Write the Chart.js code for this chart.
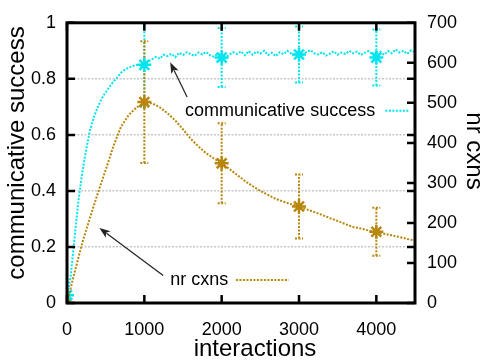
<!DOCTYPE html>
<html><head><meta charset="utf-8">
<script src="https://cdn.jsdelivr.net/npm/chart.js@4"></script>
<style>html,body{margin:0;padding:0;background:#fff}#wrap{width:482px;height:360px}</style>
</head><body><div id="wrap"><canvas id="c" width="482" height="360"></canvas></div>
<script>
// ---- data ----
const successX = [0,50,100,150,200,250,300,350,400,450,500,550,600,650,700,750,800,850,900,950,
 1000,1050,1100,1150,1200,1250,1300,1350,1400,1450,1500,1550,1600,1650,1700,1750,1800,1850,1900,1950,
 2000,2050,2100,2150,2200,2250,2300,2350,2400,2450,2500,2550,2600,2650,2700,2750,2800,2850,2900,2950,
 3000,3050,3100,3150,3200,3250,3300,3350,3400,3450,3500,3550,3600,3650,3700,3750,3800,3850,3900,3950,
 4000,4050,4100,4150,4200,4250,4300,4350,4400,4450,4500];
const successY = [0.02,0.10,0.24,0.37,0.47,0.55,0.62,0.665,0.70,0.73,0.752,0.772,0.79,0.805,0.822,0.833,0.84,0.846,0.85,0.847,
 0.856,0.862,0.87,0.878,0.872,0.886,0.881,0.889,0.877,0.893,0.885,0.895,0.888,0.882,0.894,0.887,0.896,0.884,0.879,0.89,
 0.883,0.875,0.887,0.895,0.889,0.898,0.884,0.899,0.886,0.897,0.89,0.9,0.885,0.893,0.881,0.895,0.888,0.9,0.89,0.884,
 0.893,0.886,0.897,0.902,0.891,0.887,0.895,0.883,0.89,0.898,0.886,0.894,0.889,0.9,0.891,0.897,0.885,0.893,0.899,0.888,
 0.892,0.897,0.886,0.899,0.891,0.905,0.894,0.9,0.889,0.902,0.895];
const cxnsX = [0,100,200,300,400,500,600,700,800,900,1000,1100,1200,1300,1400,1500,1600,1700,1800,1900,
 2000,2100,2200,2300,2400,2500,2600,2700,2800,2900,3000,3100,3200,3300,3400,3500,3600,3700,3800,3900,
 4000,4100,4200,4300,4400,4500];
const cxnsY = [0,78,152,215,275,332,392,441,470,489,500,499,489,474,456,434,410,391,374,361,
 349,335,320,305,292,280,270,260,253,247,241,234,227,220,212,205,197,190,186,181,
 177,173,169,165,160,156];
const errX = [0,1000,2000,3000,4000];
const successMean = [0.028,0.85,0.876,0.887,0.876];
const successSd   = [0,0.15,0.105,0.10,0.10];
const cxnsMean = [0,502,349,241,178];
const cxnsSd   = [0,152,100,80,60];
const xTickVals   = [0,1000,2000,3000,4000];
const xTickLabels = ['0','1000','2000','3000','4000'];
const yTickVals   = [0,0.2,0.4,0.6,0.8,1];
const yTickLabels = ['0','0.2','0.4','0.6','0.8','1'];
const y2TickVals  = [0,100,200,300,400,500,600,700];
const y2TickLabels = ['0','100','200','300','400','500','600','700'];
const labels = {
  success: 'communicative success', cxns: 'nr cxns',
  xTitle: 'interactions', yTitle: 'communicative success', y2Title: 'nr cxns'
};

const FONT = '"Liberation Sans", Arial, Helvetica, sans-serif';
const CYAN = '#00e5ee', GOLD = '#b8860b';
const pts = (xs, ys) => xs.map((x, i) => ({x, y: ys[i]}));

function drawErr(ctx, xs, means, sds, xs_, ys_, color) {
  ctx.save();
  ctx.strokeStyle = color; ctx.lineWidth = 2; ctx.setLineDash([2, 1.5]);
  xs.forEach((x, i) => {
    if (!sds[i]) return;
    const px = xs_.getPixelForValue(x);
    const a = ys_.getPixelForValue(means[i] - sds[i]);
    const b = ys_.getPixelForValue(means[i] + sds[i]);
    ctx.beginPath();
    ctx.moveTo(px, a); ctx.lineTo(px, b);
    ctx.moveTo(px - 4, a); ctx.lineTo(px + 4, a);
    ctx.moveTo(px - 4, b); ctx.lineTo(px + 4, b);
    ctx.stroke();
  });
  ctx.restore();
}

function arrow(ctx, x1, y1, x2, y2) {
  const ang = Math.atan2(y2 - y1, x2 - x1), L = 11, W = 4;
  ctx.beginPath(); ctx.moveTo(x1, y1);
  ctx.lineTo(x2 - Math.cos(ang) * L * 0.8, y2 - Math.sin(ang) * L * 0.8); ctx.stroke();
  ctx.beginPath();
  ctx.moveTo(x2, y2);
  ctx.lineTo(x2 - L * Math.cos(ang) + W * Math.sin(ang), y2 - L * Math.sin(ang) - W * Math.cos(ang));
  ctx.lineTo(x2 - L * 0.75 * Math.cos(ang), y2 - L * 0.75 * Math.sin(ang));
  ctx.lineTo(x2 - L * Math.cos(ang) - W * Math.sin(ang), y2 - L * Math.sin(ang) + W * Math.cos(ang));
  ctx.closePath(); ctx.fill();
}

const overlay = {
  id: 'overlay',
  beforeDatasetsDraw(chart) {
    const {ctx, chartArea: ca, scales: {x, y, y2}} = chart;
    ctx.save();
    ctx.beginPath(); ctx.rect(ca.left, ca.top, ca.right - ca.left, ca.bottom - ca.top); ctx.clip();
    drawErr(ctx, errX, successMean, successSd, x, y, CYAN);
    drawErr(ctx, errX, cxnsMean, cxnsSd, x, y2, GOLD);
    ctx.restore();
  },
  afterDraw(chart) {
    const {ctx, chartArea: ca, scales: {x, y, y2}} = chart;
    ctx.save();
    // inward ticks
    ctx.strokeStyle = '#000'; ctx.lineWidth = 2.5; ctx.setLineDash([]);
    const T = 8;
    ctx.beginPath();
    xTickVals.forEach(v => { const p = x.getPixelForValue(v);
      ctx.moveTo(p, ca.bottom); ctx.lineTo(p, ca.bottom - T);
      ctx.moveTo(p, ca.top); ctx.lineTo(p, ca.top + T); });
    yTickVals.forEach(v => { const p = y.getPixelForValue(v);
      ctx.moveTo(ca.left, p); ctx.lineTo(ca.left + T, p);
      ctx.moveTo(ca.right, p); ctx.lineTo(ca.right - T, p); });
    y2TickVals.forEach(v => { const p = y2.getPixelForValue(v);
      ctx.moveTo(ca.right, p); ctx.lineTo(ca.right - T, p); });
    ctx.stroke();
    // frame
    ctx.lineWidth = 3;
    ctx.strokeRect(ca.left, ca.top, ca.right - ca.left, ca.bottom - ca.top);

    // axis titles
    ctx.fillStyle = '#000';
    ctx.font = '24px ' + FONT;
    ctx.textAlign = 'center'; ctx.textBaseline = 'middle';
    ctx.save(); ctx.translate(17, 153); ctx.rotate(-Math.PI / 2); ctx.fillText(labels.yTitle, 0, 0); ctx.restore();
    ctx.save(); ctx.translate(474, 151); ctx.rotate(Math.PI / 2); ctx.fillText(labels.y2Title, 0, 0); ctx.restore();
    ctx.fillText(labels.xTitle, 255, 349);

    // key labels + arrows
    ctx.font = '18px ' + FONT; ctx.textAlign = 'left'; ctx.textBaseline = 'alphabetic';
    ctx.fillText(labels.success, x.getPixelForValue(1527), y.getPixelForValue(0.669));
    ctx.fillText(labels.cxns, x.getPixelForValue(1334), y.getPixelForValue(0.063));
    ctx.lineWidth = 2; ctx.setLineDash([2, 1.5]);
    ctx.strokeStyle = CYAN; ctx.beginPath();
    ctx.moveTo(x.getPixelForValue(4117), y.getPixelForValue(0.686));
    ctx.lineTo(x.getPixelForValue(4427), y.getPixelForValue(0.686)); ctx.stroke();
    ctx.strokeStyle = GOLD; ctx.beginPath();
    ctx.moveTo(x.getPixelForValue(2184), y.getPixelForValue(0.082));
    ctx.lineTo(x.getPixelForValue(2867), y.getPixelForValue(0.082)); ctx.stroke();
    ctx.setLineDash([]);
    ctx.strokeStyle = '#222'; ctx.fillStyle = '#222'; ctx.lineWidth = 1.2;
    arrow(ctx, x.getPixelForValue(1553), y.getPixelForValue(0.735), x.getPixelForValue(1334), y.getPixelForValue(0.859));
    arrow(ctx, x.getPixelForValue(1244), y.getPixelForValue(0.098), x.getPixelForValue(419), y.getPixelForValue(0.268));
    ctx.restore();
  }
};

const tickFont = {family: FONT, size: 18};
const setTicks = (vals) => (s) => { s.ticks = vals.map(v => ({value: v})); };
new Chart(document.getElementById('c'), {
  type: 'line',
  data: {
    datasets: [
      {label: labels.success, data: pts(successX, successY), yAxisID: 'y', borderColor: CYAN, borderWidth: 2,
       borderDash: [2, 1.5], pointRadius: 0, fill: false, tension: 0},
      {label: labels.cxns, data: pts(cxnsX, cxnsY), yAxisID: 'y2', borderColor: GOLD, borderWidth: 2,
       borderDash: [2, 1.5], pointRadius: 0, fill: false, tension: 0},
      {label: 'cs mean', data: pts(errX, successMean), yAxisID: 'y', showLine: false, pointStyle: 'star',
       pointRadius: 7, pointBorderWidth: 2.5, borderColor: CYAN, backgroundColor: CYAN},
      {label: 'cxns mean', data: pts(errX, cxnsMean), yAxisID: 'y2', showLine: false, pointStyle: 'star',
       pointRadius: 7, pointBorderWidth: 2.5, borderColor: GOLD, backgroundColor: GOLD}
    ]
  },
  options: {
    responsive: false, animation: false,
    layout: {padding: {top: 16, left: 0, right: 0, bottom: 0}, autoPadding: false},
    plugins: {legend: {display: false}, tooltip: {enabled: false}},
    scales: {
      x: {type: 'linear', min: 0, max: 4500,
          afterBuildTicks: setTicks(xTickVals),
          afterFit(s) { s.height = 57; },
          grid: {display: false, drawTicks: false}, border: {display: false},
          ticks: {autoSkip: false, padding: 16, color: '#000', font: tickFont,
                  maxRotation: 0, minRotation: 0, callback: (v, i) => xTickLabels[i]}},
      y: {position: 'left', min: 0, max: 1,
          afterBuildTicks: setTicks(yTickVals),
          afterFit(s) { s.width = 67; },
          grid: {drawTicks: false, lineWidth: 1.5,
                 color: c => (c.tick && c.tick.value > 0.01 && c.tick.value < 0.99) ? '#c8c8c8' : 'rgba(0,0,0,0)'},
          border: {display: false, dash: [2, 1.5]},
          ticks: {autoSkip: false, padding: 11, color: '#000', font: tickFont, callback: (v, i) => yTickLabels[i]}},
      y2: {position: 'right', min: 0, max: 700,
          afterBuildTicks: setTicks(y2TickVals),
          afterFit(s) { s.width = 67; },
          grid: {drawOnChartArea: false, drawTicks: false}, border: {display: false},
          ticks: {autoSkip: false, padding: 12, color: '#000', font: tickFont, callback: (v, i) => y2TickLabels[i]}}
    }
  },
  plugins: [overlay]
});
</script>
</body></html>
